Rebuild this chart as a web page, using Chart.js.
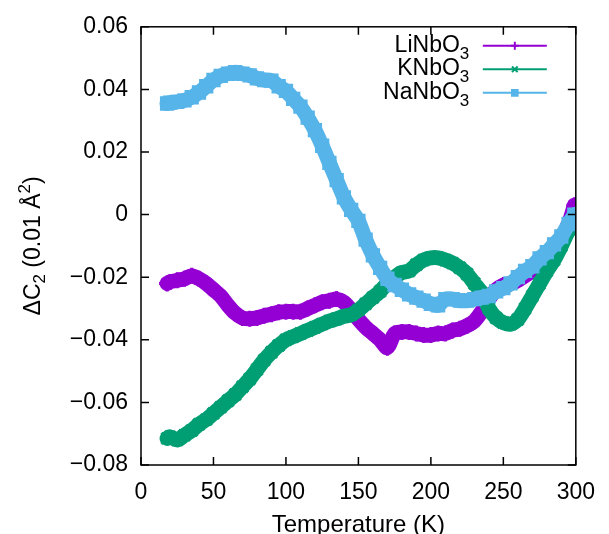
<!DOCTYPE html>
<html>
<head>
<meta charset="utf-8">
<script src="https://cdn.jsdelivr.net/npm/chart.js@4.4.1/dist/chart.umd.min.js"></script>
<style>
html,body{margin:0;padding:0;background:#fff;}
#wrap{width:609px;height:534px;position:relative;}
</style>
</head>
<body>
<div id="wrap"><canvas id="c" width="609" height="534"></canvas></div>
<script>
// ---- data ----
const temperatures = [18,20,25,30,35,40,45,50,55,60,65,70,75,80,85,90,95,100,105,110,115,120,125,130,135,140,145,150,155,160,165,170,175,180,185,190,195,200,205,210,215,220,225,230,235,240,245,250,255,260,265,270,275,280,285,290,295,299];
const seriesNames = ["LiNbO", "KNbO", "NaNbO"];
const liNbO3 = [-0.022,-0.0215,-0.021,-0.0205,-0.0195,-0.0205,-0.022,-0.024,-0.026,-0.029,-0.0315,-0.033,-0.0333,-0.033,-0.0323,-0.0318,-0.0312,-0.031,-0.031,-0.031,-0.030,-0.029,-0.028,-0.0275,-0.027,-0.028,-0.0305,-0.0335,-0.036,-0.038,-0.040,-0.0425,-0.038,-0.0375,-0.0375,-0.038,-0.0385,-0.0385,-0.038,-0.038,-0.037,-0.0365,-0.0355,-0.034,-0.031,-0.027,-0.024,-0.0225,-0.022,-0.021,-0.0195,-0.018,-0.016,-0.0135,-0.011,-0.008,-0.003,0.003];
const kNbO3 = [-0.0715,-0.071,-0.072,-0.0705,-0.069,-0.067,-0.0655,-0.0635,-0.0615,-0.0595,-0.0575,-0.055,-0.0525,-0.0495,-0.0465,-0.044,-0.0418,-0.040,-0.039,-0.038,-0.037,-0.036,-0.035,-0.034,-0.0333,-0.0325,-0.032,-0.0305,-0.0285,-0.0265,-0.0245,-0.022,-0.020,-0.0185,-0.018,-0.016,-0.0145,-0.0138,-0.0138,-0.0145,-0.0155,-0.017,-0.019,-0.022,-0.025,-0.030,-0.033,-0.0345,-0.035,-0.0335,-0.030,-0.026,-0.022,-0.018,-0.0145,-0.010,-0.005,-0.001];
const naNbO3 = [0.0355,0.0358,0.036,0.0365,0.0375,0.039,0.041,0.043,0.0443,0.045,0.0455,0.045,0.0445,0.0435,0.043,0.0428,0.041,0.0395,0.037,0.0345,0.031,0.027,0.022,0.0165,0.011,0.0055,0.0015,-0.002,-0.008,-0.013,-0.017,-0.0205,-0.0225,-0.024,-0.0255,-0.0265,-0.0275,-0.0285,-0.029,-0.027,-0.027,-0.0275,-0.0275,-0.027,-0.0265,-0.026,-0.0245,-0.0235,-0.022,-0.020,-0.018,-0.0165,-0.014,-0.012,-0.0095,-0.007,-0.003,0.0];
const xTicks = [0,50,100,150,200,250,300];
const yTicks = [-0.08,-0.06,-0.04,-0.02,0,0.02,0.04,0.06];

const colors = ["#9400d3", "#009e73", "#56b4e9"];
const styles = ["cross", "crossRot", "rect"];
const FONT = "'Liberation Sans', Arial, sans-serif";

function pts(ys){ return temperatures.map((t,i)=>({x:t,y:ys[i]})); }

const datasets = [liNbO3, kNbO3, naNbO3].map((ys,i)=>({
  label: seriesNames[i] + "3",
  data: pts(ys),
  borderColor: colors[i],
  backgroundColor: colors[i],
  borderWidth: 15,
  borderJoinStyle: 'round',
  borderCapStyle: 'round',
  tension: 0.25,
  pointStyle: styles[i],
  pointRadius: 8,
  pointBorderWidth: 3,
  pointBorderColor: colors[i],
  pointBackgroundColor: colors[i],
  order: 3 - i
}));

function drawMixed(ctx, parts, x, y){
  // parts: [text, size, dy]; left aligned from x
  let cx = x;
  parts.forEach(([t, size, dy])=>{
    ctx.font = size + 'px ' + FONT;
    ctx.fillText(t, cx, y + dy);
    cx += ctx.measureText(t).width;
  });
  return cx - x;
}
function mixedWidth(ctx, parts){
  let w = 0;
  parts.forEach(([t, size])=>{ ctx.font = size + 'px ' + FONT; w += ctx.measureText(t).width; });
  return w;
}

const frame = {
  id: 'frame',
  afterDatasetsDraw(chart){
    const {ctx, chartArea:a, scales} = chart;
    ctx.save();
    ctx.strokeStyle = '#000';
    ctx.lineWidth = 1.5;
    ctx.strokeRect(a.left, a.top, a.right-a.left, a.bottom-a.top);
    const L = 8;
    ctx.beginPath();
    xTicks.forEach(v=>{
      const px = scales.x.getPixelForValue(v);
      ctx.moveTo(px, a.bottom); ctx.lineTo(px, a.bottom-L);
      ctx.moveTo(px, a.top); ctx.lineTo(px, a.top+L);
    });
    yTicks.forEach(v=>{
      const py = scales.y.getPixelForValue(v);
      ctx.moveTo(a.left, py); ctx.lineTo(a.left+L, py);
      ctx.moveTo(a.right, py); ctx.lineTo(a.right-L, py);
    });
    ctx.stroke();

    // legend
    ctx.textBaseline = 'alphabetic';
    seriesNames.forEach((name,i)=>{
      const cy = a.top + 19 + i*23.5;
      ctx.fillStyle = '#000';
      ctx.font = '23px ' + FONT;
      ctx.textAlign = 'right';
      ctx.fillText(name, a.right-116, cy+6);
      ctx.font = '17px ' + FONT;
      ctx.textAlign = 'left';
      ctx.fillText('3', a.right-116, cy+13);
      ctx.strokeStyle = colors[i];
      ctx.fillStyle = colors[i];
      ctx.lineWidth = 2;
      ctx.beginPath();
      ctx.moveTo(a.right-93, cy); ctx.lineTo(a.right-29, cy);
      ctx.stroke();
      Chart.helpers.drawPoint(ctx, {pointStyle: styles[i], radius: 4, borderWidth: 2}, a.right-61, cy);
    });

    // axis titles
    ctx.fillStyle = '#000';
    ctx.textAlign = 'center';
    ctx.textBaseline = 'alphabetic';
    ctx.font = '24px ' + FONT;
    ctx.fillText('Temperature (K)', (a.left+a.right)/2, 532);

    const yParts = [['\u0394C', 23, 0], ['2', 17, 5], [' (0.01 \u00C5', 23, 0], ['2', 17, -10], [')', 23, 0]];
    ctx.save();
    ctx.translate(40, (a.top+a.bottom)/2);
    ctx.rotate(-Math.PI/2);
    ctx.textAlign = 'left';
    const w = mixedWidth(ctx, yParts);
    drawMixed(ctx, yParts, -w/2, 0);
    ctx.restore();
    ctx.restore();
  }
};

new Chart(document.getElementById('c'), {
  type: 'line',
  data: { datasets },
  options: {
    responsive: false,
    animation: false,
    devicePixelRatio: 1,
    layout: { padding: { left: 0, right: 24, top: 23, bottom: 0 } },
    plugins: { legend: { display: false }, tooltip: { enabled: false } },
    scales: {
      x: {
        type: 'linear', min: 0, max: 300,
        afterBuildTicks(s){ s.ticks = xTicks.map(v=>({value:v})); },
        afterFit(s){ s.height = 69; },
        grid: { display: false, drawTicks: false },
        border: { display: false },
        ticks: { color: '#000', padding: 14, font: { family: FONT, size: 23 }, maxRotation: 0 }
      },
      y: {
        type: 'linear', min: -0.08, max: 0.06,
        afterBuildTicks(s){ s.ticks = yTicks.map(v=>({value:v})); },
        afterFit(s){ s.width = 141; },
        grid: { display: false, drawTicks: false },
        border: { display: false },
        ticks: { color: '#000', padding: 13, font: { family: FONT, size: 23 },
          callback(v){ const r = Math.round(v*100)/100; return r === 0 ? '0' : (r<0 ? '\u2212' + Math.abs(r).toFixed(2) : r.toFixed(2)); } }
      }
    }
  },
  plugins: [frame]
});
</script>
</body>
</html>
